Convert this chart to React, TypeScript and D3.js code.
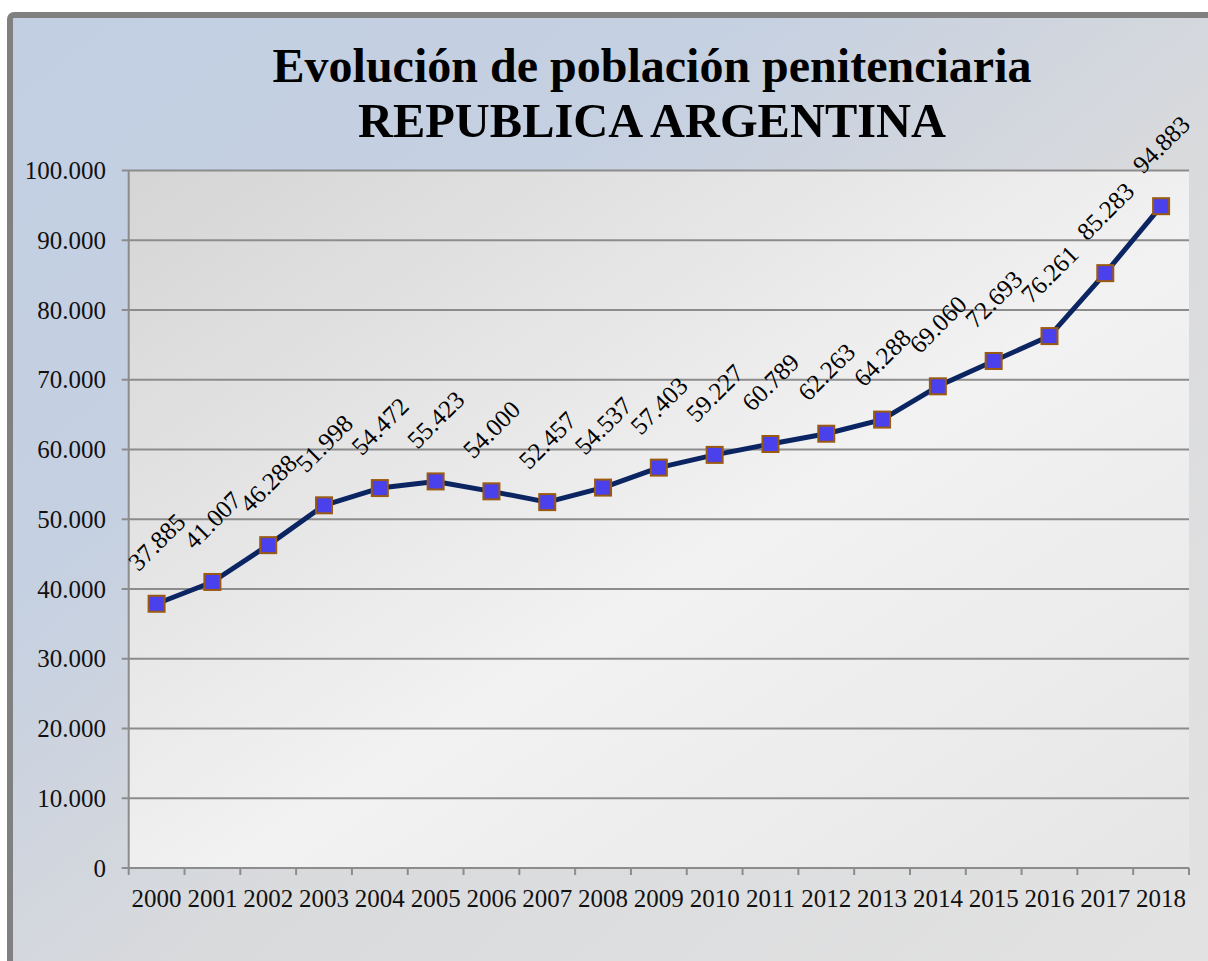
import React from "react";
import * as d3 from "d3";

const years = [
  "2000", "2001", "2002", "2003", "2004", "2005", "2006", "2007", "2008", "2009",
  "2010", "2011", "2012", "2013", "2014", "2015", "2016", "2017", "2018",
];
const poblacion = [
  37885, 41007, 46288, 51998, 54472, 55423, 54000, 52457, 54537, 57403,
  59227, 60789, 62263, 64288, 69060, 72693, 76261, 85283, 94883,
];
const yTicks = [0, 10000, 20000, 30000, 40000, 50000, 60000, 70000, 80000, 90000, 100000];
const titleLines = ["Evolución de población penitenciaria", "REPUBLICA ARGENTINA"];

const W = 1208;
const H = 961;
const plot = { left: 128.7, right: 1189, top: 170.5, bottom: 868 };
const font = "'Liberation Serif', 'Times New Roman', serif";

const esAR = d3.formatLocale({
  decimal: ",",
  thousands: ".",
  grouping: [3],
  currency: ["$", ""],
});
const fmt = esAR.format(",d");

export default function App() {
  const x = d3.scaleBand().domain(years).range([plot.left, plot.right]);
  const y = d3.scaleLinear().domain([0, 100000]).range([plot.bottom, plot.top]);
  const cx = (yr: string) => (x(yr) as number) + x.bandwidth() / 2;

  const line = d3
    .line<number>()
    .x((_, i) => cx(years[i]))
    .y((d) => y(d));

  const ms = 16;

  return (
    <svg
      width={W}
      height={H}
      style={{ position: "absolute", left: 0, top: 0, display: "block" }}
      fontFamily={font}
    >
      <defs>
        <linearGradient id="bg" x1="0" y1="0" x2="1" y2="1">
          <stop offset="0" stopColor="#c2cfe3" />
          <stop offset="0.3" stopColor="#c5d0e1" />
          <stop offset="0.55" stopColor="#d9dadc" />
          <stop offset="1" stopColor="#e3e3e3" />
        </linearGradient>
        <linearGradient id="pa" x1="0" y1="0" x2="1" y2="1">
          <stop offset="0" stopColor="#d5d5d5" />
          <stop offset="0.55" stopColor="#f2f2f2" />
          <stop offset="1" stopColor="#e6e6e6" />
        </linearGradient>
      </defs>

      <rect x={10} y={15} width={W + 20} height={H + 20} rx={4} fill="url(#bg)" stroke="#808080" strokeWidth={6} />

      <text x={652} y={82} textAnchor="middle" fontSize={48} fontWeight="bold" textLength={759} lengthAdjust="spacingAndGlyphs">
        {titleLines[0]}
      </text>
      <text x={652} y={137} textAnchor="middle" fontSize={48} fontWeight="bold" textLength={588} lengthAdjust="spacingAndGlyphs">
        {titleLines[1]}
      </text>

      <rect
        x={plot.left}
        y={plot.top}
        width={plot.right - plot.left}
        height={plot.bottom - plot.top}
        fill="url(#pa)"
      />

      {yTicks.map((t) => (
        <g key={t}>
          <line x1={plot.left - 7} x2={plot.right} y1={y(t)} y2={y(t)} stroke="#8c8c8c" strokeWidth={2} />
          <text x={106} y={y(t)} dy="0.34em" textAnchor="end" fontSize={25} fill="#111">
            {fmt(t)}
          </text>
        </g>
      ))}
      <line x1={plot.left} x2={plot.left} y1={plot.top} y2={plot.bottom} stroke="#8c8c8c" strokeWidth={2} />

      {years.map((yr, i) => (
        <g key={yr}>
          <line
            x1={(x(yr) as number)}
            x2={(x(yr) as number)}
            y1={plot.bottom}
            y2={plot.bottom + 7}
            stroke="#8c8c8c"
            strokeWidth={2}
          />
          {i === years.length - 1 && (
            <line x1={plot.right} x2={plot.right} y1={plot.bottom} y2={plot.bottom + 7} stroke="#8c8c8c" strokeWidth={2} />
          )}
          <text x={cx(yr)} y={907} textAnchor="middle" fontSize={25} fill="#111">
            {yr}
          </text>
        </g>
      ))}

      <path d={line(poblacion) || ""} fill="none" stroke="#0b2563" strokeWidth={5} strokeLinejoin="round" />

      {poblacion.map((v, i) => (
        <rect
          key={i}
          x={cx(years[i]) - ms / 2}
          y={y(v) - ms / 2}
          width={ms}
          height={ms}
          fill="#4a40ec"
          stroke="#9a5a10"
          strokeWidth={2}
        />
      ))}

      {poblacion.map((v, i) => (
        <text
          key={i}
          transform={`translate(${cx(years[i])},${y(v) - 62}) rotate(-45)`}
          textAnchor="middle"
          dy="0.35em"
          fontSize={25}
          fill="#000"
        >
          {fmt(v)}
        </text>
      ))}
    </svg>
  );
}
